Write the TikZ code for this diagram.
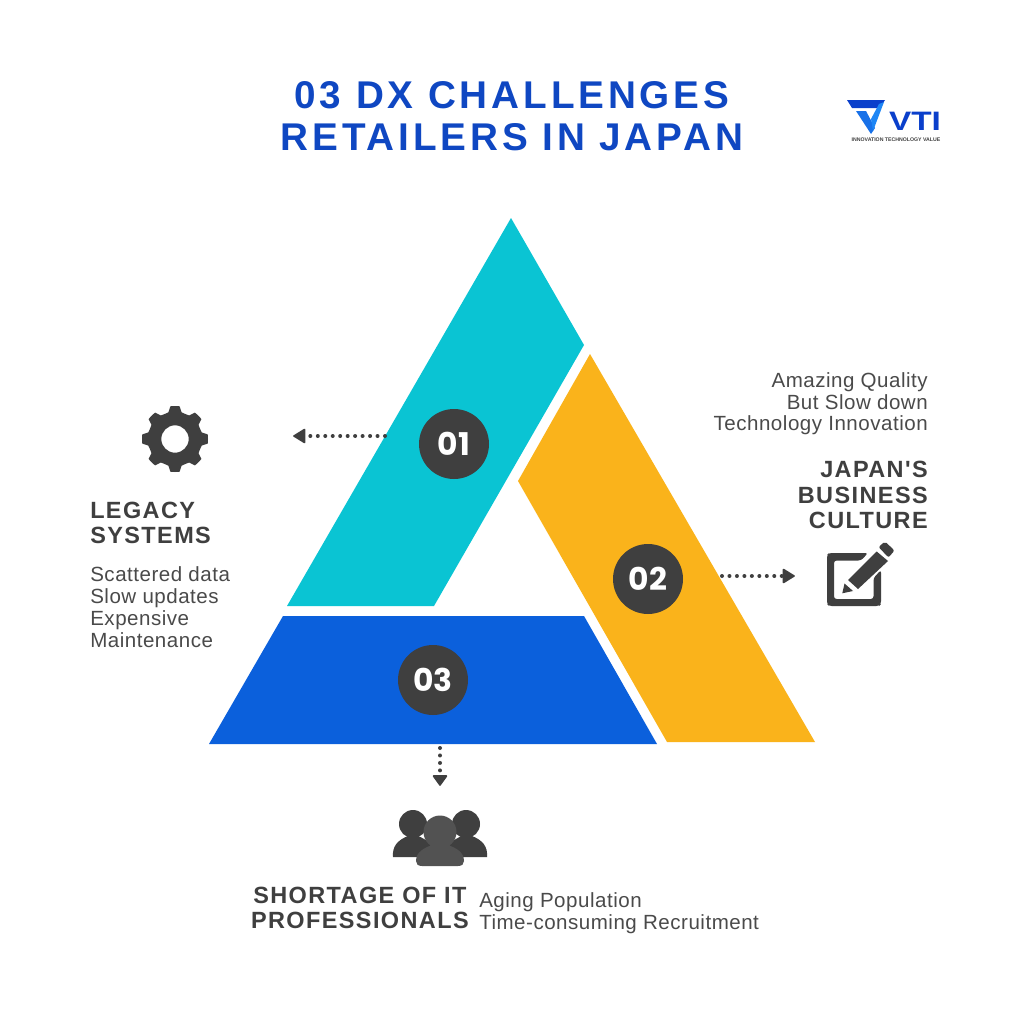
\documentclass[tikz,border=0pt]{standalone}
\usepackage{fontspec}
\usetikzlibrary{arrows.meta}
\setmainfont[LetterSpace=2.5]{Liberation Sans}
\newfontfamily\titlefont[LetterSpace=10]{Liberation Sans}
\newfontfamily\headfont[LetterSpace=6]{Liberation Sans}
\newfontfamily\numfont{Poppins}
\newfontfamily\logofont{Liberation Sans}
\definecolor{teal1}{HTML}{0AC4D3}
\definecolor{amber1}{HTML}{FAB31B}
\definecolor{blue1}{HTML}{0B60DC}
\definecolor{navy1}{HTML}{0F47C2}
\definecolor{ink}{HTML}{3F3F3F}
\definecolor{body1}{HTML}{4A4A4A}
\definecolor{front1}{HTML}{525252}
\definecolor{logoA}{HTML}{0A3FCB}
\definecolor{logoB}{HTML}{1E86F5}
\tikzset{
  x=0.75pt,y=-0.75pt,
  badge/.style={circle,fill=ink,minimum size=52.5pt,inner sep=0pt,text=white,font=\numfont\fontsize{23.5}{24}\selectfont\bfseries},
  titletext/.style={text=navy1,font=\titlefont\fontsize{29}{31.5}\selectfont\bfseries,align=center,inner sep=0pt},
  headtext/.style={text=ink,font=\headfont\fontsize{17.6}{19}\selectfont\bfseries,inner sep=0pt},
  bodytext/.style={text=body1,font=\fontsize{15.4}{16.4}\selectfont,inner sep=0pt},
  dotline/.style={draw=ink,line width=3pt,line cap=round,dash pattern=on 0pt off 5.6pt},
  headtip/.style={fill=ink,draw=ink,line width=1.2pt,line join=round},
}
\begin{document}
\begin{tikzpicture}
\useasboundingbox (0,0) rectangle (1024,1024);
\fill[white] (0,0) rectangle (1024,1024);
% title
\node[titletext] (title) at (512,116) {03 DX CHALLENGES\\RETAILERS IN JAPAN};
% logo
\fill[logoA] (847,100) -- (885,100) -- (880,108) -- (852,108) -- cycle;
\fill[logoB!70!logoA] (856,111) -- (866,111) -- (875,128) -- (871,134) -- cycle;
\fill[logoB] (884,102) -- (873,131) -- (871,119) -- (879,104) -- cycle;
\node[text=logoA,font=\logofont\fontsize{20}{20}\selectfont\bfseries,inner sep=0pt,xscale=1.25] (logo) at (915,121) {VTI};
\node[text=ink,font=\logofont\fontsize{3.9}{4}\selectfont\bfseries,inner sep=0pt] (tagline) at (896,140) {INNOVATION TECHNOLOGY VALUE};
% pieces
\fill[teal1] (511,218) -- (584,345) -- (434,606) -- (287,606) -- cycle;
\fill[amber1] (590,354) -- (815,742) -- (667,742) -- (518,481) -- cycle;
\fill[blue1] (283,616) -- (584,616) -- (657,744) -- (209,744) -- cycle;
% connectors
\coordinate (a1s) at (385,436);
\coordinate (a1e) at (303,436);
\coordinate (a2s) at (722,576);
\coordinate (a2e) at (784,576);
\coordinate (a3s) at (440,748);
\coordinate (a3e) at (440,775);
\draw[dotline] (a1s) -- (a1e);
\draw[dotline] (a2s) -- (a2e);
\draw[dotline] (a3s) -- (a3e);
\fill[headtip] (304.5,429.5) -- (304.5,442.5) -- (294,436) -- cycle;
\fill[headtip] (783.5,569.5) -- (783.5,582.5) -- (794,576) -- cycle;
\fill[headtip] (433.5,776) -- (446.5,776) -- (440,785) -- cycle;
% badges
\node[badge] (b1) at (454,444) {01};
\node[badge] (b2) at (648,579) {02};
\node[badge] (b3) at (433,680) {03};
% gear
\coordinate (gearc) at (175,439);
\fill[ink,even odd rule,shift={(gearc)}]
  plot[smooth cycle,tension=0.15] coordinates {
  (0:33)(8:33)(14:27.5)(31:27.5)(37:33)(45:33)(53:33)(59:27.5)(76:27.5)(82:33)
  (90:33)(98:33)(104:27.5)(121:27.5)(127:33)(135:33)(143:33)(149:27.5)(166:27.5)(172:33)
  (180:33)(188:33)(194:27.5)(211:27.5)(217:33)(225:33)(233:33)(239:27.5)(256:27.5)(262:33)
  (270:33)(278:33)(284:27.5)(301:27.5)(307:33)(315:33)(323:33)(329:27.5)(346:27.5)(352:33)}
  (0,0) circle[radius=13.7];
% edit icon
\fill[ink,even odd rule,rounded corners=2pt]
  (868,553) -- (829,553) -- (827,555) -- (827,604) -- (829,606) -- (879,606) -- (881,604) -- (881,570) -- (873.5,578)
  -- (873.5,599) -- (834,599) -- (834,560.5) -- (861,560.5) -- cycle;
\fill[ink] (876.7,551.5) -- (888,561) -- (858,589) -- (848,580) -- cycle;
\fill[ink] (842.3,593.3) -- (844.5,583.5) -- (853,591) -- cycle;
\fill[ink,rounded corners=1.5pt] (878.5,547) -- (885,541.5) -- (894.5,550.5) -- (888.5,557.5) -- cycle;
% people icon
\fill[ink] (413,824) circle[radius=14];
\fill[ink] (466,824) circle[radius=14];
\fill[ink] (393,857) .. controls (392,846) and (398,840) .. (408,836) -- (418,836)
   .. controls (428,840) and (434,846) .. (434,857) -- cycle;
\fill[ink] (487,857) .. controls (488,846) and (482,840) .. (472,836) -- (462,836)
   .. controls (452,840) and (446,846) .. (446,857) -- cycle;
\fill[front1] (440,832) circle[radius=16.5];
\fill[front1] (416,861) .. controls (416,852) and (424,848) .. (432,845) -- (448,845)
   .. controls (456,848) and (464,852) .. (464,861) .. controls (464,864) and (462,866) .. (458,866)
   -- (422,866) .. controls (418,866) and (416,864) .. (416,861) -- cycle;
% labels
\node[headtext,anchor=west,align=left] (legacy) at (90,523) {LEGACY\\SYSTEMS};
\node[bodytext,anchor=north west,align=left] (legacyb) at (90,566.5) {Scattered data\\Slow updates\\Expensive\\Maintenance};
\node[bodytext,anchor=north east,align=right] (culture) at (928,372) {Amazing Quality\\But Slow down\\Technology Innovation};
\node[headtext,anchor=east,align=right] (cultureh) at (928,495) {JAPAN'S\\BUSINESS\\CULTURE};
\node[headtext,anchor=east,align=center] (short) at (469,908) {SHORTAGE OF IT\\PROFESSIONALS};
\node[bodytext,anchor=west,align=left] (shortb) at (479,913.5) {Aging Population\\Time-consuming Recruitment};
\end{tikzpicture}
\end{document}
